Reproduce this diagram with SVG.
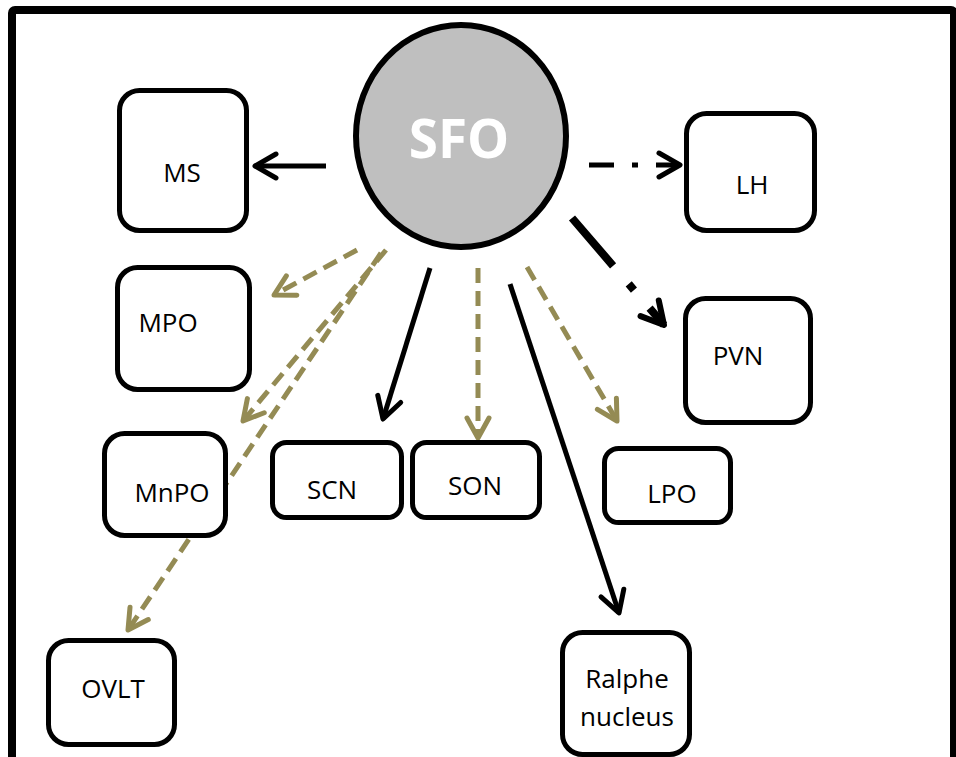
<svg xmlns="http://www.w3.org/2000/svg" width="956" height="757" viewBox="0 0 956 757">
<style>
.box{fill:#fff;stroke:#000;stroke-width:5}
.lbl{font-family:"Open Sans","Liberation Sans",sans-serif;font-size:26px;fill:#000;text-anchor:middle}
.blk{fill:none;stroke:#000;stroke-width:5}
.olv{fill:none;stroke:#948b54;stroke-width:5;stroke-dasharray:15 8}
</style>
<defs>
<marker id="ab" markerUnits="userSpaceOnUse" markerWidth="50" markerHeight="50" viewBox="-30 -25 50 50" refX="0" refY="0" orient="auto" overflow="visible">
<path d="M-21,-12 L0,0 L-21,12" fill="none" stroke="#000" stroke-width="5" stroke-linecap="round" stroke-linejoin="round"/>
</marker>
<marker id="ao" markerUnits="userSpaceOnUse" markerWidth="50" markerHeight="50" viewBox="-30 -25 50 50" refX="0" refY="0" orient="auto" overflow="visible">
<path d="M-20,-11 L0,0 L-20,11" fill="none" stroke="#948b54" stroke-width="5" stroke-linecap="round" stroke-linejoin="round"/>
</marker>
<marker id="ap" markerUnits="userSpaceOnUse" markerWidth="50" markerHeight="50" viewBox="-30 -25 50 50" refX="0" refY="0" orient="auto" overflow="visible">
<path d="M-22,-12 L0,0 L-22,12" fill="none" stroke="#000" stroke-width="6" stroke-linecap="round" stroke-linejoin="round"/>
</marker>
</defs>
<rect x="0" y="0" width="956" height="757" fill="#fff"/>
<rect id="frame" x="12" y="10" width="942" height="780" rx="3" fill="none" stroke="#000" stroke-width="8"/>

<g id="connectors">
<line class="blk" x1="326" y1="166" x2="255" y2="166" marker-end="url(#ab)"/>
<line x1="589" y1="165" x2="680" y2="165" stroke="#000" stroke-width="5" stroke-dasharray="25 18 6 18" marker-end="url(#ab)"/>
<line x1="572" y1="218" x2="664" y2="325" stroke="#000" stroke-width="8" stroke-dasharray="63 24 8 24" marker-end="url(#ap)"/>
<line class="olv" x1="357" y1="250" x2="274" y2="295" marker-end="url(#ao)"/>
<line class="olv" x1="386" y1="250" x2="243" y2="421" marker-end="url(#ao)"/>
<line class="olv" x1="381" y1="253" x2="128" y2="630" marker-end="url(#ao)"/>
<line class="blk" x1="430" y1="268" x2="383" y2="419" marker-end="url(#ab)"/>
<line class="olv" x1="478" y1="268" x2="478" y2="438" marker-end="url(#ao)"/>
<line class="olv" x1="527" y1="267" x2="617" y2="421" marker-end="url(#ao)"/>
<line class="blk" x1="510" y1="284" x2="619" y2="613" marker-end="url(#ab)"/>
</g>

<g id="SFO">
<ellipse cx="461" cy="136" rx="105" ry="111" fill="#bfbfbf" stroke="#000" stroke-width="6"/>
<text x="459" y="158" font-family="'Open Sans','Liberation Sans',sans-serif" font-size="53" font-weight="bold" fill="#fff" text-anchor="middle">SFO</text>
</g>
<g id="MS"><rect class="box" x="119.5" y="90.5" width="127" height="140" rx="20"/><text class="lbl" x="182" y="182">MS</text></g>
<g id="LH"><rect class="box" x="686.5" y="113.5" width="128" height="117" rx="20"/><text class="lbl" x="752" y="194">LH</text></g>
<g id="MPO"><rect class="box" x="117.5" y="267.5" width="132" height="122" rx="20"/><text class="lbl" x="168" y="332">MPO</text></g>
<g id="PVN"><rect class="box" x="685.5" y="298.5" width="125" height="124" rx="20"/><text class="lbl" x="738" y="365">PVN</text></g>
<g id="MnPO"><rect class="box" x="104.5" y="433.5" width="121" height="102" rx="20"/><text class="lbl" x="172" y="502">MnPO</text></g>
<g id="SCN"><rect class="box" x="272.5" y="442.5" width="129" height="75" rx="14"/><text class="lbl" x="332" y="499">SCN</text></g>
<g id="SON"><rect class="box" x="412.5" y="442.5" width="127" height="75" rx="14"/><text class="lbl" x="475" y="495">SON</text></g>
<g id="LPO"><rect class="box" x="604.5" y="448.5" width="126" height="74" rx="14"/><text class="lbl" x="672" y="503">LPO</text></g>
<g id="OVLT"><rect class="box" x="48.5" y="640.5" width="126" height="104" rx="20"/><text class="lbl" x="113" y="698">OVLT</text></g>
<g id="Ralphe"><rect class="box" x="562.5" y="632.5" width="127" height="122" rx="20"/><text class="lbl" x="627" y="688">Ralphe</text><text class="lbl" x="627" y="726">nucleus</text></g>
</svg>
